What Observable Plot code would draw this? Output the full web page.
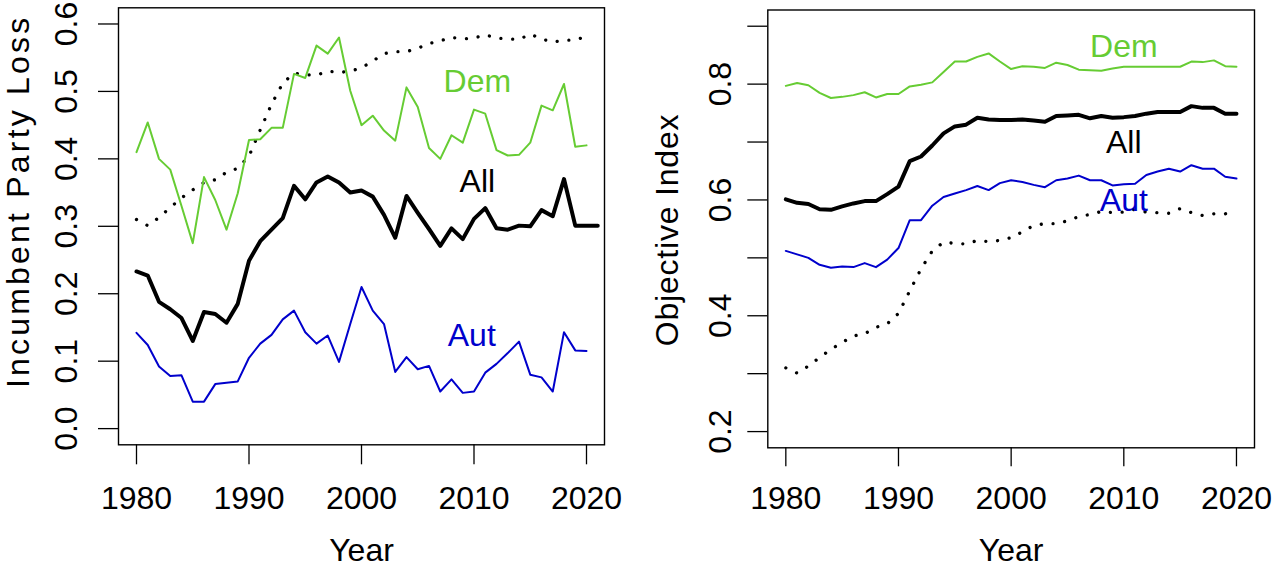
<!DOCTYPE html>
<html>
<head>
<meta charset="utf-8">
<script src="https://cdn.jsdelivr.net/npm/d3@7"></script>
<script src="https://cdn.jsdelivr.net/npm/@observablehq/plot@0.6"></script>
<style>
  body { margin: 0; background: #fff; }
  #wrap { position: relative; width: 1275px; height: 568px; overflow: hidden; background: #fff; }
  #wrap svg { position: absolute; top: 0; }
</style>
</head>
<body>
<div id="wrap"></div>
<script>
// ---------- data ----------
const years = [1980,1981,1982,1983,1984,1985,1986,1987,1988,1989,1990,1991,1992,1993,1994,1995,1996,1997,1998,1999,2000,2001,2002,2003,2004,2005,2006,2007,2008,2009,2010,2011,2012,2013,2014,2015,2016,2017,2018,2019,2020];
const yearsAll = years.concat([2021]);

// Left panel: Incumbent Party Loss
const demLoss = [0.410,0.454,0.400,0.384,0.330,0.275,0.373,0.339,0.295,0.349, 0.428,0.429,0.446,0.446,0.526,0.520,0.568,0.556,0.580,0.501, 0.450,0.464,0.442,0.427,0.506,0.477,0.416,0.400,0.435,0.424, 0.473,0.467,0.413,0.405,0.406,0.424,0.479,0.472,0.511,0.418, 0.420];
const allLoss = [0.233,0.227,0.188,0.177,0.164,0.130,0.173,0.170,0.157,0.185, 0.249,0.278,0.295,0.312,0.360,0.340,0.365,0.374,0.365,0.350, 0.353,0.344,0.317,0.283,0.345,0.320,0.296,0.271,0.297,0.281, 0.311,0.327,0.297,0.295,0.301,0.300,0.324,0.315,0.370,0.301, 0.301,0.301];
const autLoss = [0.142,0.124,0.092,0.078,0.079,0.040,0.040,0.066,0.068,0.070, 0.105,0.126,0.139,0.162,0.175,0.143,0.126,0.138,0.099,0.155, 0.210,0.175,0.155,0.084,0.106,0.088,0.093,0.055,0.073,0.053, 0.055,0.083,0.096,0.112,0.129,0.080,0.076,0.055,0.143,0.116, 0.115];

// Dotted series (same in both panels)
const dotted = [0.310,0.301,0.313,0.328,0.342,0.354,0.365,0.369,0.380,0.386, 0.404,0.443,0.481,0.512,0.527,0.525,0.524,0.530,0.528,0.530, 0.535,0.545,0.556,0.559,0.559,0.564,0.571,0.575,0.580,0.578, 0.579,0.584,0.579,0.578,0.577,0.585,0.578,0.573,0.576,0.576, 0.582];

// Right panel: Objective Index
const demIdx = [0.797,0.802,0.798,0.785,0.776,0.778,0.781,0.786,0.777,0.783, 0.783,0.796,0.799,0.803,0.821,0.839,0.839,0.847,0.853,0.839, 0.826,0.831,0.830,0.828,0.837,0.833,0.825,0.824,0.823,0.827, 0.830,0.830,0.830,0.830,0.830,0.830,0.839,0.838,0.841,0.831, 0.830];
const allIdx = [0.601,0.595,0.593,0.584,0.583,0.589,0.594,0.598,0.598,0.610, 0.623,0.667,0.675,0.694,0.715,0.727,0.730,0.742,0.739,0.738, 0.738,0.739,0.737,0.735,0.745,0.746,0.747,0.741,0.745,0.742, 0.743,0.745,0.749,0.752,0.752,0.752,0.762,0.759,0.759,0.749, 0.749];
const autIdx = [0.512,0.506,0.500,0.488,0.483,0.485,0.484,0.491,0.484,0.497, 0.517,0.565,0.565,0.590,0.605,0.611,0.617,0.624,0.617,0.629, 0.634,0.631,0.626,0.622,0.634,0.637,0.642,0.634,0.634,0.625, 0.627,0.628,0.643,0.649,0.654,0.649,0.660,0.654,0.654,0.640, 0.637];

// ticks and labels
const xTicks = [1980, 1990, 2000, 2010, 2020];
const yTicksLeft = [0, 0.1, 0.2, 0.3, 0.4, 0.5, 0.6];
const yTicksRight = [0.2, 0.3, 0.4, 0.5, 0.6, 0.7, 0.8, 0.9];
const yLabelsRight = ["0.2", "", "0.4", "", "0.6", "", "0.8", ""];
const seriesNames = ["Dem", "All", "Aut"];
const labelXLeft = [2010.3, 2010.3, 2009.8];
const labelYLeft = [0.515, 0.366, 0.137];
const labelXRight = [2010.0, 2010.0, 2010.0];
const labelYRight = [0.865, 0.699, 0.598];
const xTitle = "Year";
const yTitleLeft = "Incumbent Party Loss";
const yTitleRight = "Objective Index";

// ---------- styles ----------
const green = "#66CC33", blue = "#0000CC", black = "#000000";
const colors = [green, black, blue];
const font = "'Liberation Sans', Arial, Helvetica, sans-serif";

function seriesLine(vals, yrs, color, width) {
  return Plot.line(vals, {x: (d, i) => yrs[i], y: d => d, stroke: color, strokeWidth: width,
    strokeLinejoin: "round", strokeLinecap: "round"});
}
function dottedLine(vals, yrs) {
  return Plot.line(vals, {x: (d, i) => yrs[i], y: d => d, stroke: black, strokeWidth: 3.3,
    strokeDasharray: "0.01 11.8", strokeLinecap: "round", strokeLinejoin: "round"});
}
function labelMarks(lx, ly) {
  return seriesNames.map((name, i) => Plot.text([name], {x: () => lx[i], y: () => ly[i],
    fill: colors[i], fontSize: 32, textAnchor: "middle", lineAnchor: "middle"}));
}

// ---------- left panel ----------
const leftPlot = Plot.plot({
  width: 640, height: 568,
  marginLeft: 118, marginRight: 36, marginTop: 7.3, marginBottom: 123.7,
  x: {domain: [1978.4, 2021.6]},
  y: {domain: [-0.024, 0.624]},
  style: {fontFamily: font, fontSize: "32px", background: "white", color: "black", overflow: "visible"},
  marks: [
    Plot.axisX(xTicks, {tickSize: 20, tickPadding: 21.5, fontSize: 32, strokeWidth: 1.3, tickFormat: d => String(d), label: null}),
    Plot.axisY(yTicksLeft, {tickSize: 20, tickPadding: 21.3, tickRotate: -90, fontSize: 32, strokeWidth: 1.3, tickFormat: ".1f", label: null}),
    dottedLine(dotted, years),
    seriesLine(demLoss, years, green, 2),
    seriesLine(allLoss, yearsAll, black, 4),
    seriesLine(autLoss, years, blue, 2),
    ...labelMarks(labelXLeft, labelYLeft),
    Plot.frame({stroke: black, strokeWidth: 1.4}),
    Plot.text([xTitle], {frameAnchor: "bottom", dy: 115.7, lineAnchor: "bottom", textAnchor: "middle", fontSize: 32}),
    Plot.text([yTitleLeft], {frameAnchor: "left", dx: -89.7, dy: -25, rotate: -90, lineAnchor: "bottom", textAnchor: "middle", fontSize: 32})
  ]
});

// ---------- right panel ----------
const labelMap = new Map(yTicksRight.map((t, i) => [t, yLabelsRight[i]]));
const rightPlot = Plot.plot({
  width: 635, height: 568,
  marginLeft: 127.3, marginRight: 21, marginTop: 9.5, marginBottom: 120.7,
  x: {domain: [1978.4, 2021.6]},
  y: {domain: [0.172, 0.928]},
  style: {fontFamily: font, fontSize: "32px", background: "white", color: "black", overflow: "visible"},
  marks: [
    Plot.axisX(xTicks, {tickSize: 19, tickPadding: 19.3, fontSize: 32, strokeWidth: 1.3, tickFormat: d => String(d), label: null}),
    Plot.axisY(yTicksRight, {tickSize: 20, tickPadding: 17.3, tickRotate: -90, fontSize: 32, strokeWidth: 1.3, tickFormat: d => labelMap.get(d), label: null}),
    dottedLine(dotted, years),
    seriesLine(demIdx, years, green, 2),
    seriesLine(allIdx, years, black, 4),
    seriesLine(autIdx, years, blue, 2),
    ...labelMarks(labelXRight, labelYRight),
    Plot.frame({stroke: black, strokeWidth: 1.4}),
    Plot.text([xTitle], {frameAnchor: "bottom", dy: 112.7, lineAnchor: "bottom", textAnchor: "middle", fontSize: 32}),
    Plot.text([yTitleRight], {frameAnchor: "left", dx: -90, dy: 1.1, rotate: -90, lineAnchor: "bottom", textAnchor: "middle", fontSize: 32})
  ]
});

const wrap = document.getElementById("wrap");
leftPlot.style.left = "0px";
rightPlot.style.left = "640px";
wrap.appendChild(leftPlot);
wrap.appendChild(rightPlot);

// stretch the axis titles slightly to match the reference's letter spacing
d3.select(leftPlot).selectAll("text").filter(function() { return this.textContent === yTitleLeft; }).attr("letter-spacing", 3.2);
d3.select(rightPlot).selectAll("text").filter(function() { return this.textContent === yTitleRight; }).attr("letter-spacing", 0.8);
</script>
</body>
</html>
